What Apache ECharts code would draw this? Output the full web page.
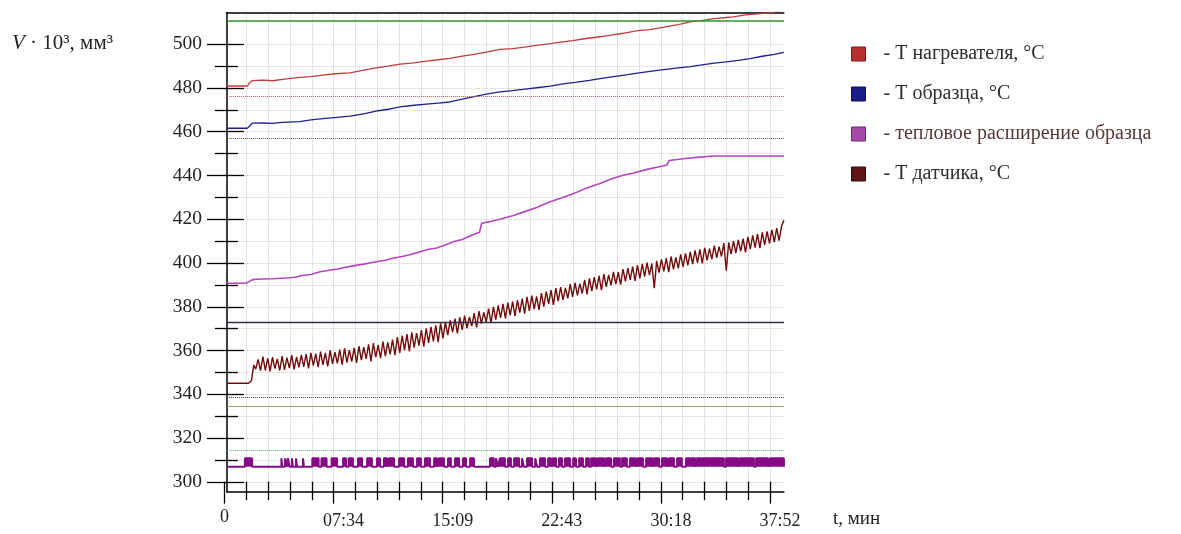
<!DOCTYPE html>
<html><head><meta charset="utf-8">
<script src="https://cdn.jsdelivr.net/npm/echarts@6/dist/echarts.min.js"></script>
<style>html,body{margin:0;padding:0;background:#fff}#c{width:1181px;height:534px}</style>
</head><body><div id="c"></div>
<script>
// ---------------- DATA ----------------
const xTickLabels = ["0", "07:34", "15:09", "22:43", "30:18", "37:52"];
const seriesNames = ["Т нагревателя, °С", "Т образца, °С", "тепловое расширение образца", "Т датчика, °С"];
const xAxisTitle = "t, мин";

// [time, s ; value]
const heaterT = [[10,480.9],[95,480.9],[105,482.4],[116,483.4],[160,483.6],[200,483.3],[250,484.0],[314,484.8],[360,485.2],[410,485.9],[460,486.5],[523,486.9],[570,487.9],[620,489.0],[680,490.0],[731,490.9],[780,491.4],[840,492.3],[890,492.9],[939,493.5],[990,494.6],[1040,495.4],[1090,496.4],[1147,497.6],[1200,498.0],[1250,498.7],[1300,499.5],[1356,500.3],[1400,501.0],[1450,501.6],[1500,502.5],[1564,503.4],[1610,504.2],[1660,505.0],[1720,506.2],[1772,506.7],[1830,507.8],[1890,509.0],[1939,510.2],[1990,510.9],[2040,511.7],[2090,512.2],[2118,512.5],[2170,513.4],[2220,513.9],[2272,514.3],[2330,515.6]];

const sampleT = [[10,461.6],[95,461.6],[105,462.6],[115,463.9],[160,464.0],[200,463.8],[240,464.3],[314,464.6],[360,465.4],[420,466.1],[470,466.6],[523,467.1],[580,468.2],[640,469.6],[690,470.4],[731,471.4],[780,472.0],[840,472.6],[890,473.1],[939,473.6],[990,474.9],[1040,476.0],[1090,477.2],[1147,478.2],[1200,478.8],[1260,479.6],[1300,480.1],[1356,480.8],[1410,481.9],[1460,482.6],[1520,483.5],[1564,484.3],[1620,485.2],[1680,486.1],[1720,486.8],[1772,487.6],[1830,488.4],[1890,489.2],[1940,489.8],[1981,490.4],[2040,491.4],[2090,491.9],[2140,492.6],[2189,493.4],[2240,494.5],[2290,495.4],[2330,496.3]];

const expansion = [[10,390.8],[90,390.8],[100,391.4],[115,392.3],[130,392.6],[200,392.8],[270,393.3],[300,393.6],[330,394.4],[360,394.8],[398,396.0],[430,396.6],[470,397.3],[535,398.7],[580,399.5],[620,400.4],[676,401.4],[700,402.2],[740,403.0],[780,404.0],[814,405.2],[850,406.3],[880,406.8],[920,408.3],[952,409.7],[990,410.8],[1020,412.2],[1050,413.6],[1062,414.0],[1071,418.2],[1100,418.8],[1147,420.0],[1200,421.6],[1250,423.5],[1300,425.4],[1356,428.0],[1400,429.6],[1450,431.6],[1500,433.9],[1564,436.4],[1610,438.4],[1660,440.1],[1701,441.0],[1760,442.8],[1830,444.5],[1842,444.8],[1852,446.8],[1868,447.1],[1920,447.8],[1980,448.4],[2035,448.9],[2330,448.9]];

const sensorStart = [[10,345.1],[100,345.1],[112,346.2],[122,353.4]];
const sensorT0 = 130, sensorStep = 10;
const sensorValues = [
351.5,356.0,350.8,357.2,351.0,356.4,350.5,357.0,351.8,356.2,350.9,357.5,351.2,356.8,352.0,357.9,351.4,357.1,352.3,358.0,
352.6,358.4,351.9,359.0,353.1,358.6,352.4,359.5,353.5,358.9,352.8,360.1,353.9,359.3,354.2,360.4,353.6,361.0,354.5,360.2,
355.0,361.3,354.4,362.0,355.6,361.6,356.2,362.8,355.1,363.4,357.0,362.5,356.6,364.1,357.5,363.7,358.3,365.0,357.9,366.2,
359.0,366.8,360.2,367.5,359.6,368.3,361.4,368.0,362.3,369.4,361.8,370.1,363.5,370.8,364.2,371.5,363.8,372.4,365.6,373.0,
367.1,373.8,368.4,374.6,367.9,375.2,369.5,376.0,370.3,375.4,371.2,377.1,370.6,378.0,372.3,377.5,373.1,379.2,372.6,380.0,
374.2,380.6,375.0,381.3,374.7,381.9,376.1,382.4,375.8,383.0,377.3,383.7,376.9,384.5,378.2,385.1,379.0,384.8,378.6,386.3,
380.1,387.0,381.4,387.6,380.9,388.5,382.6,389.0,383.2,388.7,383.9,390.4,384.5,391.0,385.2,390.6,386.1,392.3,385.7,393.0,
387.2,393.6,388.0,394.3,387.6,395.0,389.1,394.6,389.8,396.0,390.4,395.8,390.1,397.2,391.6,397.7,392.3,398.4,391.9,399.0,
393.0,399.6,393.8,400.2,394.5,399.8,388.5,401.0,395.6,401.7,396.2,402.3,395.9,403.0,397.1,402.6,397.6,404.0,398.2,404.4,
398.9,405.1,399.5,405.8,400.1,406.3,399.8,407.0,401.2,406.6,401.8,408.0,402.4,407.5,403.0,409.1,396.5,409.4,404.1,410.0,
404.6,410.6,405.3,411.2,404.9,412.0,406.4,412.7,407.1,413.3,406.8,414.0,408.3,414.5,409.0,415.2,409.6,416.0,410.2,416.8,
419.5];

// pulse signal at the bottom: baseline, top and [start, end] times (s)
const pulseBase = 306.9, pulseTop = 310.8;
const pulseIntervals = [
[85,115],[237,241],[252,256],[264,271],[281,285],[298,302],[327,331],
[366,392],[404,425],[446,469],[494,506],[517,535],[556,573],[594,614],
[635,648],[664,677],[685,706],[727,748],[764,785],[802,818],[835,856],
[873,885],[893,914],[931,943],[960,977],[993,1006],[1023,1039],
[1106,1122],[1131,1139],[1147,1168],[1181,1193],[1206,1227],[1239,1247],
[1260,1281],[1294,1302],[1314,1335],[1348,1360],[1368,1381],[1393,1406],
[1418,1439],[1452,1464],[1477,1493],[1506,1518],[1527,1548],[1556,1581],
[1589,1610],[1622,1647],[1656,1676],[1689,1714],[1722,1743],[1756,1781],
[1789,1810],[1822,1843],[1851,1872],[1885,1905],[1922,1960],[1968,2080],
[2089,2139],[2147,2205],[2214,2264],[2272,2330]];

// horizontal reference levels
const refLevels = [510.6, 476.2, 457.0, 373.1, 338.7, 334.7, 314.3];

// ---------------- STYLES ----------------
const FONT = 'Liberation Serif';
const refStyles = [
  {color:'#2f962f', type:'solid', width:1.5},
  {color:'#a85a5a', type:'dotted', width:1},
  {color:'#555555', type:'dotted', width:1},
  {color:'#2e2e48', type:'solid', width:1.3},
  {color:'#444444', type:'dotted', width:1},
  {color:'#a6a35a', type:'solid', width:1.2},
  {color:'#6fae6f', type:'dotted', width:1}
];
const lineColors = ['#c23b3b', '#1f1f8f', '#b545be', '#740a0a'];
const legendColors = ['#b8302e', '#1c1c88', '#a64aa8', '#5e1414'];
const legendBorders = ['#7a1a1a', '#0c0c50', '#6a2a6c', '#300808'];
const gridColor = '#cccccc';
const xStep = 454.4;
const T_MIN = 10, T_MAX = 2330;
const Y_MIN = 295.52, Y_MAX = 514.49;

// build derived series
const sensor = sensorStart.concat(sensorValues.map((v, i) => [sensorT0 + i * sensorStep, v]));
const pulses = [[T_MIN, pulseBase]];
pulseIntervals.forEach(([s, e]) => { pulses.push([s, pulseBase], [s, pulseTop], [e, pulseTop], [e, pulseBase]); });
pulses.push([T_MAX, pulseBase]);

const chart = echarts.init(document.getElementById('c'), null, {renderer: 'canvas'});

const tickLine = {color: '#000', width: 1.3};
const option = {
  animation: false,
  backgroundColor: '#ffffff',
  textStyle: {fontFamily: FONT},
  grid: [
    {left: 226.9, top: 12.5, width: 557, height: 479.2, outerBoundsMode: 'none'},   // series
    {left: 226.9, top: 44.2, width: 557, height: 437.7, outerBoundsMode: 'none'},   // y ticks
    {left: 224.5, top: 12.5, width: 545.5, height: 479.2, outerBoundsMode: 'none'}  // x ticks
  ],
  xAxis: [
    {gridIndex: 0, type: 'value', min: T_MIN, max: T_MAX, position: 'bottom',
      axisLine: {show: true, lineStyle: {color: '#000', width: 1.5}}, axisTick: {show: false},
      axisLabel: {show: false}, splitLine: {show: false}},
    {gridIndex: 0, type: 'value', min: T_MIN, max: T_MAX, position: 'top',
      axisLine: {show: true, lineStyle: {color: '#000', width: 1.5}}, axisTick: {show: false},
      axisLabel: {show: false}, splitLine: {show: false}},
    {gridIndex: 2, type: 'value', min: 0, max: 2272, interval: xStep, position: 'bottom',
      axisLine: {show: false},
      axisTick: {show: true, inside: false, length: 12, lineStyle: tickLine},
      minorTick: {show: true, splitNumber: 5, length: 8.5, lineStyle: tickLine},
      splitLine: {show: false},
      axisLabel: {show: true, margin: 16, showMinLabel: true, showMaxLabel: true,
        formatter: function (v) {
          const i = Math.round(v / xStep);
          const t = xTickLabels[i] || '';
          return i === 0 ? '{z|' + t + '}' : '{a|' + t + '}';
        },
        rich: {
          z: {fontFamily: FONT, fontSize: 18, color: '#222', padding: [1, 0, 0, 0]},
          a: {fontFamily: FONT, fontSize: 18, color: '#222', padding: [5, 0, 0, 20]}
        }}},
    {gridIndex: 2, type: 'value', min: 0, max: 2272, interval: xStep, position: 'bottom',
      axisLine: {show: false},
      axisTick: {show: true, inside: true, length: 10, lineStyle: tickLine},
      minorTick: {show: true, splitNumber: 5, length: 10, lineStyle: tickLine},
      axisLabel: {show: false},
      splitLine: {show: true, showMinLine: false, lineStyle: {color: gridColor, type: 'dotted', width: 1}},
      minorSplitLine: {show: true, lineStyle: {color: gridColor, type: 'dotted', width: 1}}},
    {gridIndex: 1, type: 'value', min: T_MIN, max: T_MAX, show: false}
  ],
  yAxis: [
    {gridIndex: 0, type: 'value', min: Y_MIN, max: Y_MAX, position: 'left',
      axisLine: {show: true, lineStyle: {color: '#000', width: 1.5}}, axisTick: {show: false},
      axisLabel: {show: false}, splitLine: {show: false}},
    {gridIndex: 2, type: 'value', min: Y_MIN, max: Y_MAX, show: false},
    {gridIndex: 1, type: 'value', min: 300, max: 500, interval: 20, position: 'left',
      axisLine: {show: false},
      axisTick: {show: true, inside: false, length: 20, lineStyle: tickLine},
      minorTick: {show: true, splitNumber: 2, length: 12, lineStyle: tickLine},
      splitLine: {show: false},
      axisLabel: {show: true, margin: 25, fontFamily: FONT, fontSize: 19.5, color: '#222', padding: [5, 0, 0, 0]}},
    {gridIndex: 1, type: 'value', min: 300, max: 500, interval: 20, position: 'left',
      axisLine: {show: false},
      axisTick: {show: true, inside: true, length: 17, lineStyle: tickLine},
      minorTick: {show: true, splitNumber: 2, length: 11, lineStyle: tickLine},
      axisLabel: {show: false},
      splitLine: {show: true, lineStyle: {color: gridColor, type: 'dotted', width: 1}},
      minorSplitLine: {show: true, lineStyle: {color: gridColor, type: 'dotted', width: 1}}}
  ],
  legend: {
    orient: 'vertical', left: 851, top: 44, padding: 0,
    itemWidth: 14, itemHeight: 14, itemGap: 20, icon: 'rect',
    textStyle: {fontFamily: FONT, fontSize: 20, color: '#2e2e2e', lineHeight: 20, padding: [0, 0, 0, 13]},
    formatter: n => '- ' + n,
    data: seriesNames.map((n, i) => ({
      name: n,
      itemStyle: {color: legendColors[i], borderColor: legendBorders[i], borderWidth: 1},
      textStyle: i === 2 ? {color: '#553838'} : {}
    }))
  },
  graphic: [{
    type: 'text', left: 12, top: 33,
    style: {
      text: '{i|V}{r| · 10³, мм³}',
      rich: {
        i: {fontFamily: FONT, fontStyle: 'italic', fontSize: 21, fill: '#222', color: '#222'},
        r: {fontFamily: FONT, fontSize: 21, fill: '#222', color: '#222'}
      }
    }
  }, {
    type: 'text', left: 833, top: 510,
    style: {text: xAxisTitle, fontFamily: FONT, fontSize: 19, fill: '#222'}
  }],
  series: [
    {name: 'pulses', type: 'line', xAxisIndex: 0, yAxisIndex: 0, data: pulses, symbol: 'none',
      lineStyle: {color: '#860a86', width: 2}, areaStyle: {color: '#860a86', opacity: 1, origin: pulseBase},
      silent: true, z: 3,
      markLine: {symbol: ['none', 'none'], silent: true, label: {show: false}, animation: false,
        data: refLevels.map((v, i) => ({yAxis: v, lineStyle: refStyles[i]}))}},
    {name: seriesNames[0], type: 'line', xAxisIndex: 0, yAxisIndex: 0, data: heaterT, symbol: 'none',
      lineStyle: {color: lineColors[0], width: 1.3}, itemStyle: {color: lineColors[0]}, z: 4},
    {name: seriesNames[1], type: 'line', xAxisIndex: 0, yAxisIndex: 0, data: sampleT, symbol: 'none',
      lineStyle: {color: lineColors[1], width: 1.3}, itemStyle: {color: lineColors[1]}, z: 4},
    {name: seriesNames[2], type: 'line', xAxisIndex: 0, yAxisIndex: 0, data: expansion, symbol: 'none',
      lineStyle: {color: lineColors[2], width: 1.6}, itemStyle: {color: lineColors[2]}, z: 4},
    {name: seriesNames[3], type: 'line', xAxisIndex: 0, yAxisIndex: 0, data: sensor, symbol: 'none',
      lineStyle: {color: lineColors[3], width: 1.4}, itemStyle: {color: lineColors[3]}, z: 4}
  ]
};
chart.setOption(option);
</script></body></html>
